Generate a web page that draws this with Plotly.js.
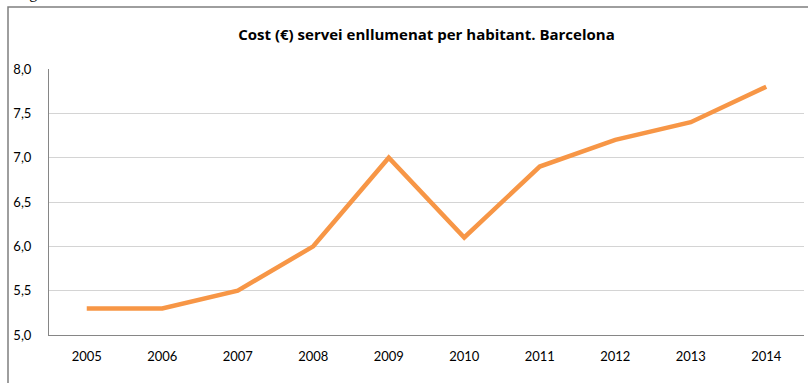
<!DOCTYPE html>
<html>
<head>
<meta charset="utf-8">
<script src="https://cdn.plot.ly/plotly-3.0.1.min.js"></script>
<style>
html,body{margin:0;padding:0;overflow:hidden;background:#fff;}
#chart{width:808px;height:383px;}
</style>
</head>
<body>
<div id="chart"></div>
<script>
const years = ['2005','2006','2007','2008','2009','2010','2011','2012','2013','2014'];
const costPerInhabitant = [5.3, 5.3, 5.5, 6.0, 7.0, 6.1, 6.9, 7.2, 7.4, 7.8];
const yTicks = [5.0, 5.5, 6.0, 6.5, 7.0, 7.5, 8.0];
const titleText = 'Cost (€) servei enllumenat per habitant. Barcelona';
const captionText = 'Figura 10';

const trace = {
  x: years,
  y: costPerInhabitant,
  type: 'scatter',
  mode: 'lines',
  line: {color: '#F79646', width: 4.5},
  hoverinfo: 'x+y'
};

const layout = {
  width: 808,
  height: 383,
  margin: {l: 49, r: 4, t: 69, b: 48},
  paper_bgcolor: '#ffffff',
  plot_bgcolor: '#ffffff',
  separators: ',.',
  showlegend: false,
  font: {family: 'Lato, "Open Sans", sans-serif', size: 13, color: '#000'},
  title: {
    text: titleText,
    font: {family: '"Open Sans", Lato, sans-serif', size: 15, color: '#000', weight: 'bold'},
    x: 0.5, xref: 'paper', y: 0.908, yanchor: 'middle'
  },
  xaxis: {
    type: 'category',
    range: [-0.5, years.length - 0.5],
    showgrid: false,
    showline: true,
    linecolor: '#868686',
    linewidth: 1,
    ticks: '',
    ticklabelstandoff: 9,
    tickfont: {size: 13},
    zeroline: false,
    fixedrange: true
  },
  yaxis: {
    range: [5.0, 8.0],
    tickvals: yTicks,
    tickformat: '.1f',
    showgrid: true,
    gridcolor: '#D4D4D4',
    gridwidth: 1,
    showline: true,
    linecolor: '#868686',
    linewidth: 1,
    ticks: '',
    ticklabelstandoff: 14,
    tickfont: {size: 13},
    zeroline: false,
    fixedrange: true
  },
  shapes: [{
    type: 'rect', xref: 'paper', yref: 'paper',
    x0: -0.0543, x1: 1.2, y0: -0.6, y1: 1.2335,
    line: {color: '#7F7F7F', width: 1.5},
    fillcolor: 'rgba(0,0,0,0)'
  }],
  annotations: [{
    text: captionText,
    xref: 'paper', yref: 'paper',
    x: -0.046, xanchor: 'left',
    y: 1.2445, yanchor: 'bottom',
    showarrow: false,
    font: {family: '"Liberation Serif", serif', size: 16, color: '#000'}
  }]
};

Plotly.newPlot('chart', [trace], layout, {displayModeBar: false, staticPlot: true});
</script>
</body>
</html>
